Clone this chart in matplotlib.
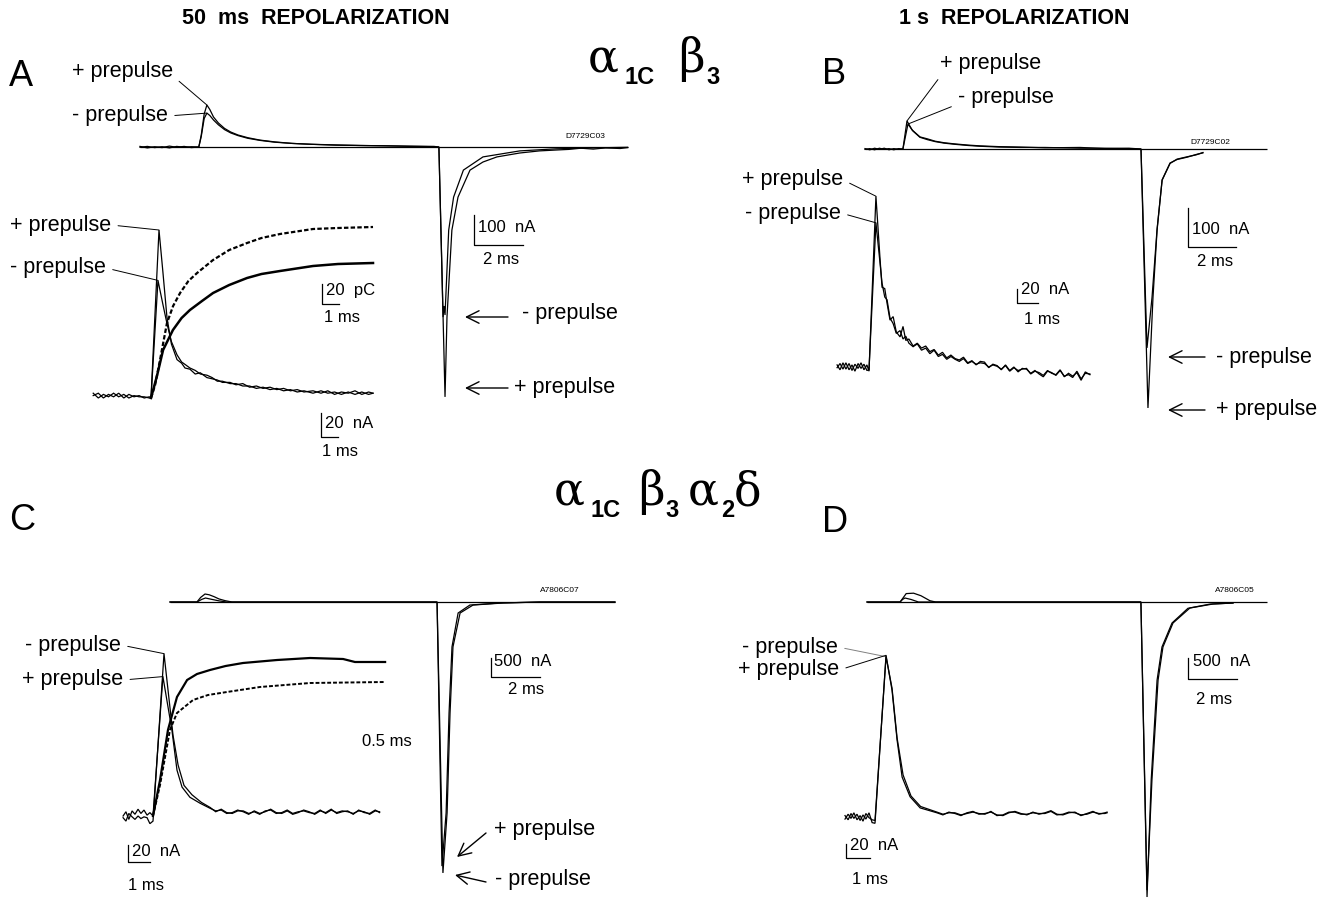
import numpy as np
import matplotlib
matplotlib.use('Agg')
import matplotlib.pyplot as plt

plt.rcParams['font.family'] = ['Liberation Sans', 'DejaVu Sans']

W, H = 1331, 898

# ---------------- panel A, top trace (ms, nA) ----------------
A_TOP_T_POS = [0, 0.3, 0.6, 0.9, 1.2, 1.5, 1.8, 2.1, 2.4, 2.5, 2.62, 2.73, 2.85, 3.0, 3.2, 3.45, 3.7, 4.0,
               4.4, 4.9, 5.5, 6.2, 7.0, 8.0, 9.0, 10.0, 11.0, 12.0, 12.2, 12.45, 12.53, 12.73, 12.98, 13.47,
               14.0, 14.57, 15.5, 16.3, 17.0, 17.5, 18.0, 18.5, 19.0, 19.6, 19.9]
A_TOP_I_POS = [2, -3, 1, -2, 3, -1, 2, -2, 0, 40, 110, 140, 125, 100, 80, 62, 50, 40,
               31, 23, 17, 12, 9, 7, 5, 4, 3, 2, 0, -833, -567, -277, -167, -77,
               -50, -33, -20, -13, -10, -8, -4, -7, -3, -5, -2]
A_TOP_T_NEG = [0, 0.3, 0.6, 0.9, 1.2, 1.5, 1.8, 2.1, 2.4, 2.5, 2.62, 2.73, 2.85, 3.0, 3.2, 3.45, 3.7, 4.0,
               4.4, 4.9, 5.5, 6.2, 7.0, 8.0, 9.0, 10.0, 11.0, 12.0, 12.2, 12.37, 12.41, 12.45, 12.6, 12.8,
               13.2, 14.0, 15.5, 17.0, 18.5, 19.9]
A_TOP_I_NEG = [-1, 2, -2, 1, -3, 2, -1, 1, 0, 35, 95, 113, 105, 90, 74, 58, 47, 38,
               29, 22, 16, 12, 9, 6, 5, 4, 2, 1, 0, -567, -530, -560, -277, -167,
               -77, -33, -13, -6, -3, -1]

# ---------------- panel A, inset (ms, nA and pC) ----------------
AI_T_POS = [-3.4, -3.1, -2.8, -2.5, -2.2, -1.9, -1.6, -1.3, -1.0, -0.7, -0.4, -0.1, 0, 0.47,
            0.7, 0.94, 1.2, 1.53, 1.8, 2.0, 2.29, 2.6, 2.9, 3.29, 3.6, 3.9, 4.2, 4.65, 5.0, 5.4,
            5.8, 6.2, 6.59, 7.0, 7.4, 7.8, 8.2, 8.6, 9.0, 9.53, 10.0, 10.4, 10.8, 11.2, 11.6, 12.0,
            12.4, 12.8, 13.06]
AI_I_POS = [2, 4, 0, 3, 1, 4, 0, 3, 1, 2, 0, 1, 0, 140,
            105, 67, 45, 32, 29, 25, 24, 20, 21, 17, 16, 15, 13, 13, 11, 12,
            9, 10, 8, 9, 7, 8, 6, 7, 5, 6, 4, 6, 3, 5, 4, 6,
            3, 5, 4]
AI_T_NEG = [-3.4, -3.1, -2.8, -2.5, -2.2, -1.9, -1.6, -1.3, -1.0, -0.7, -0.4, -0.1, 0, 0.41,
            0.7, 0.94, 1.2, 1.53, 1.8, 2.0, 2.29, 2.6, 2.9, 3.29, 3.6, 3.9, 4.2, 4.65, 5.0, 5.4,
            5.8, 6.2, 6.59, 7.0, 7.4, 7.8, 8.2, 8.6, 9.0, 9.53, 10.0, 10.4, 10.8, 11.2, 11.6, 12.0,
            12.4, 12.8, 13.06]
AI_I_NEG = [4, 0, 3, 1, 4, 1, 3, 0, 2, 1, 1, 0, 0, 98,
            78, 62, 47, 36, 30, 28, 25, 23, 20, 19, 17, 14, 14, 12, 12, 10,
            10, 8, 9, 7, 8, 6, 7, 5, 6, 4, 6, 4, 5, 3, 5, 3,
            5, 3, 4]
AQ_T_DASH = [0, 0.24, 0.53, 0.94, 1.3, 1.71, 2.2, 2.71, 3.65, 4.6, 5.65, 6.5, 7.59, 9.53, 11.0, 13.06]
AQ_DASH = [0, 13, 38, 75, 92, 105, 117, 125, 138, 148, 155, 160, 164, 169, 170, 171]
AQ_T_SOLID = [0, 0.35, 0.71, 1.29, 1.8, 2.29, 3.0, 3.65, 4.6, 5.65, 6.5, 7.59, 9.53, 11.0, 13.06]
AQ_SOLID = [0, 22, 48, 68, 80, 88, 97, 105, 113, 120, 124, 127, 132, 134, 135]

# ---------------- panel B, top trace ----------------
B_TOP_T_POS = [0, 0.2, 0.4, 0.6, 0.8, 1.0, 1.2, 1.4, 1.58, 1.75, 1.96, 2.29, 2.6, 2.92, 3.3, 3.75, 4.3,
               4.8, 5.6, 6.46, 7.5, 8.96, 10.0, 11.0, 11.5, 11.79, 12.0, 12.17, 12.38, 12.71, 13.0,
               13.42, 13.8, 14.08]
B_TOP_I_POS = [1, -2, 2, -1, 2, -2, 1, -1, 0, 72, 49, 31, 26, 20, 16, 13, 10,
               8, 6, 5, 3, 4, 1, 2, 0, -664, -380, -208, -79, -36, -27,
               -21, -14, -10]
B_TOP_T_NEG = [0, 0.2, 0.4, 0.6, 0.8, 1.0, 1.2, 1.4, 1.58, 1.79, 2.0, 2.29, 2.6, 2.92, 3.3, 3.75, 4.3,
               4.8, 5.6, 6.46, 7.5, 8.96, 10.0, 11.0, 11.5, 11.75, 11.96, 12.17, 12.38, 12.71, 13.0,
               13.42, 13.8, 14.08]
B_TOP_I_NEG = [-1, 1, -2, 2, -1, 1, -2, 1, 0, 64, 46, 30, 24, 19, 15, 12, 9,
               7, 5, 4, 4, 2, 2, 1, 0, -510, -380, -205, -80, -37, -26,
               -20, -15, -9]

# ---------------- panel B, inset ----------------
BI_T_PRE = [-1.52, -1.38, -1.24, -1.1, -0.95, -0.81, -0.67, -0.52, -0.38, -0.24, -0.1, 0]
BI_I_PRE_POS = [3, -4, 6, -3, 5, -5, 4, -2, 6, -4, 3, -6]
BI_I_PRE_NEG = [-1, 5, -3, 6, -4, 3, -6, 5, -2, 4, -5, -4]
BI_T_PEAK = 0.33
BI_PEAK_POS = 244
BI_PEAK_NEG = 206
BI_T_DECAY = [0.52, 0.62, 0.75, 0.86, 1.0, 1.15, 1.3, 1.48, 1.62, 1.75, 1.9, 2.1, 2.3, 2.5, 2.7, 2.9,
              3.1, 3.3, 3.5, 3.7, 3.9, 4.1, 4.3, 4.5, 4.7, 4.9, 5.1, 5.3, 5.5, 5.7, 5.9, 6.1, 6.3, 6.5,
              6.7, 6.9, 7.1, 7.3, 7.5, 7.7, 7.9, 8.1, 8.3, 8.5, 8.7, 8.9, 9.1, 9.3, 9.5, 9.7, 9.9, 10.1,
              10.3, 10.52]
BI_I_DECAY_POS = [157, 114, 112, 91, 67, 72, 50, 43, 58, 38, 40, 30, 34, 27, 30, 22,
                  25, 17, 21, 13, 17, 12, 10, 14, 6, 9, 3, 8, 7, -1, 4, 2, -4, 3,
                  -5, 0, -7, -2, -3, -9, -5, -10, -14, -6, -8, -12, -5, -13, -11, -15, -6, -17,
                  -9, -10]
BI_I_DECAY_NEG = [150, 120, 100, 96, 70, 62, 48, 52, 40, 44, 34, 29, 33, 24, 27, 19,
                  24, 15, 18, 11, 15, 11, 8, 12, 5, 8, 4, 6, 5, 0, 3, 1, -3, 2,
                  -6, -1, -5, -3, -2, -10, -6, -8, -12, -5, -9, -11, -4, -14, -9, -13, -8, -19,
                  -7, -11]

# ---------------- panel C, top trace ----------------
C_TOP_T_POS = [0, 1.1, 1.25, 1.43, 1.6, 1.8, 2.0, 2.25, 2.53, 10.9, 11.1, 11.27, 11.39, 11.51, 11.76,
               12.24, 13.47, 15.1, 18.16]
C_TOP_I_POS = [0, 0, 120, 210, 190, 140, 80, 35, 0, 0, -6950, -5550, -2920, -1180, -290,
               -80, -26, 0, 0]
C_TOP_T_NEG = [0, 1.1, 1.3, 1.45, 1.7, 2.0, 2.3, 10.9, 11.14, 11.31, 11.43, 11.55, 11.84, 12.37,
               13.59, 15.1, 18.16]
C_TOP_I_NEG = [0, 0, 70, 105, 70, 30, 0, 0, -7130, -5550, -2920, -1180, -290, -80,
               -26, 0, 0]

# ---------------- panel C, inset ----------------
CI_T_PRE = [-1.36, -1.23, -1.1, -0.95, -0.82, -0.68, -0.55, -0.41, -0.27, -0.14, 0]
CI_I_PRE_POS = [0, 5, -4, 6, 2, 8, 3, 7, 1, 4, 0]
CI_I_PRE_NEG = [-2, -6, 3, -1, -4, 0, -3, -1, -2, -9, -6]
CI_T_RISE_POS = [0.45, 0.86, 1.09, 1.32, 1.68, 2.14]
CI_I_RISE_POS = [164, 101, 54, 34, 22, 15]
CI_T_RISE_NEG = [0.5, 0.91, 1.14, 1.41, 1.77, 2.2]
CI_I_RISE_NEG = [191, 95, 60, 36, 25, 16]
CI_T_TAIL = [2.6, 2.85, 3.1, 3.35, 3.6, 3.85, 4.1, 4.35, 4.6, 4.85, 5.1, 5.35, 5.6, 5.85, 6.1, 6.35,
             6.6, 6.85, 7.1, 7.35, 7.6, 7.85, 8.1, 8.35, 8.6, 8.85, 9.1, 9.35, 9.6, 9.85, 10.1, 10.3]
CI_I_TAIL_POS = [9, 6, 7, 3, 4, 7, 5, 2, 6, 3, 5, 8, 4, 3, 6, 2,
                 4, 7, 5, 2, 6, 4, 8, 3, 5, 6, 2, 7, 4, 3, 7, 4]
CI_I_TAIL_NEG = [10, 5, 8, 4, 3, 6, 6, 3, 5, 2, 6, 7, 3, 4, 7, 3,
                 5, 6, 4, 3, 7, 3, 7, 4, 6, 5, 3, 6, 5, 2, 6, 5]
CQ_T_SOLID = [0, 0.32, 0.68, 1.09, 1.55, 2.0, 2.59, 3.3, 4.09, 5.64, 7.14, 8.64, 9.18, 10.55]
CQ_SOLID = [0, 36, 86, 119, 136, 142, 146, 150, 153, 156, 158, 157, 154, 154]
CQ_T_DASH = [0, 0.32, 0.77, 1.09, 1.82, 2.5, 3.36, 4.86, 7.14, 10.55]
CQ_DASH = [0, 31, 86, 103, 116, 121, 124, 129, 133, 134]

# ---------------- panel D, top trace ----------------
D_TOP_T_POS = [0, 1.35, 1.6, 1.9, 2.2, 2.57, 2.8, 11.18, 11.43, 11.63, 11.88, 12.08, 12.49, 13.18,
               14.12, 14.94]
D_TOP_I_POS = [0, 0, 200, 210, 150, 30, 0, 0, -6860, -4240, -1860, -1070, -500, -143,
               -48, -24]
D_TOP_T_NEG = [0, 1.35, 1.45, 1.55, 1.8, 2.1, 11.18, 11.43, 11.6, 11.84, 12.04, 12.45, 13.1, 14.0, 14.94]
D_TOP_I_NEG = [0, 0, 60, 95, 60, 0, 0, -7024, -4240, -1860, -1070, -500, -150, -50, -24]

# ---------------- panel D, inset ----------------
DI_T_PRE = [-1.25, -1.12, -1.0, -0.88, -0.75, -0.62, -0.5, -0.38, -0.25, -0.12, 0]
DI_I_PRE_POS = [2, -4, 5, -2, 4, -5, 3, -3, 6, -8, -9]
DI_I_PRE_NEG = [-3, 4, -2, 6, -4, 2, -6, 5, -1, -4, -5]
DI_T_RISE_POS = [0.46, 0.71, 0.92, 1.13, 1.46, 1.88]
DI_I_RISE_POS = [231, 181, 110, 57, 29, 13]
DI_T_RISE_NEG = [0.46, 0.71, 0.92, 1.17, 1.5, 1.9]
DI_I_RISE_NEG = [229, 184, 113, 60, 30, 15]
DI_T_TAIL = [2.58, 2.83, 3.08, 3.33, 3.58, 3.83, 4.08, 4.33, 4.58, 4.83, 5.08, 5.33, 5.58, 5.83, 6.08,
             6.33, 6.58, 6.83, 7.08, 7.33, 7.58, 7.83, 8.08, 8.33, 8.58, 8.83, 9.08, 9.33, 9.58, 9.67]
DI_I_TAIL_POS = [6, 3, 7, 5, 2, 6, 8, 4, 5, 7, 3, 2, 6, 8, 5, 3, 7, 4, 6, 9, 4, 3, 6, 7, 2, 5, 8, 4, 6, 7]
DI_I_TAIL_NEG = [7, 4, 6, 6, 3, 5, 7, 5, 4, 8, 2, 3, 7, 7, 4, 4, 6, 5, 5, 8, 3, 4, 7, 6, 3, 4, 7, 5, 5, 6]

LABEL_FS = 15.5
SCALE_FS = 12

fig = plt.figure(figsize=(W / 100, H / 100), dpi=100)
fig.patch.set_facecolor('white')

# full-figure overlay in pixel units (y down) for labels, leaders and arrows
ov = fig.add_axes([0, 0, 1, 1])
ov.set_xlim(0, W)
ov.set_ylim(H, 0)
ov.axis('off')


def put(x, y, s, size=LABEL_FS, ha='left', va='center', **kw):
    ov.text(x, y, s, fontsize=size, ha=ha, va=va, **kw)


def trace_axes(box, origin, scale):
    # box = left, top, right, bottom in px; origin = px of (0, 0); scale = px per unit
    left, top, right, bottom = box
    ax = fig.add_axes([left / W, 1 - bottom / H, (right - left) / W, (bottom - top) / H])
    ax.set_xlim((left - origin[0]) / scale[0], (right - origin[0]) / scale[0])
    ax.set_ylim((origin[1] - bottom) / scale[1], (origin[1] - top) / scale[1])
    ax.axis('off')
    ax.patch.set_alpha(0)
    return ax


def to_data(ax, x, y):
    return ax.transData.inverted().transform((x, H - y))


def trace(ax, t, i, lw=0.9, **kw):
    ax.plot(t, i, color='black', lw=lw, clip_on=False, solid_joinstyle='miter', **kw)


def scale_bar(ax, corner, dx, dy, lab_y, lab_x, ypos, xpos):
    cx, cy = to_data(ax, *corner)
    ax.plot([cx, cx, cx + dx], [cy + dy, cy, cy], color='black', lw=0.9, clip_on=False)
    put(ypos[0], ypos[1], lab_y, size=SCALE_FS)
    put(xpos[0], xpos[1], lab_x, size=SCALE_FS)


def leader(ax, t, i, text, pos, relpos=(1, 0.5), color='black'):
    k = int(np.argmax(i))
    ov.annotate(text, xy=(t[k], i[k]), xycoords=ax.transData, xytext=pos, textcoords='data',
                fontsize=LABEL_FS, ha='left', va='center',
                arrowprops=dict(arrowstyle='-', lw=0.7, color=color, relpos=relpos,
                                shrinkA=3, shrinkB=0))


def arrow(tip, tail, text, tpos):
    ov.annotate('', xy=tip, xytext=tail,
                arrowprops=dict(arrowstyle='->,head_length=0.9,head_width=0.45', lw=1.0,
                                color='black', shrinkA=0, shrinkB=0))
    put(tpos[0], tpos[1], text)


# ---------------- headings ----------------
put(316, 19, '50  ms  REPOLARIZATION', size=15.5, ha='center', weight='bold')
put(1014, 19, '1 s  REPOLARIZATION', size=15.5, ha='center', weight='bold')

greek = dict(family=['DejaVu Serif'], size=33, va='baseline')
sub = dict(size=17, weight='bold', va='baseline')
put(588, 72, 'α', **greek)
put(624, 84, '1C', **sub)
put(678, 72, 'β', **greek)
put(706, 84, '3', **sub)

put(554, 505, 'α', **greek)
put(590, 517, '1C', **sub)
put(638, 505, 'β', **greek)
put(665, 517, '3', **sub)
put(688, 505, 'α', **greek)
put(721, 517, '2', **sub)
put(734, 505, 'δ', **greek)

for letter, x, y in [('A', 9, 76), ('B', 822, 74), ('C', 9, 521), ('D', 822, 522)]:
    put(x, y, letter, size=26)

# ---------------- panel A ----------------
axA = trace_axes((130, 90, 640, 410), (140, 147), (24.5, 0.3))
axA.hlines(0, A_TOP_T_POS[0], A_TOP_T_POS[-1], color='black', lw=0.9)
trace(axA, A_TOP_T_POS, A_TOP_I_POS)
trace(axA, A_TOP_T_NEG, A_TOP_I_NEG)
put(565, 136, 'D7729C03', size=6)
leader(axA, A_TOP_T_POS, A_TOP_I_POS, '+ prepulse', (72, 72), relpos=(1, 0.3))
leader(axA, A_TOP_T_NEG, A_TOP_I_NEG, '- prepulse', (72, 116))
scale_bar(axA, (474, 245), 2, 100, '100  nA', '2 ms', (478, 227), (483, 259))
arrow((465, 317), (508, 317), '- prepulse', (522, 313))
arrow((465, 388), (508, 388), '+ prepulse', (514, 387))

axAi = trace_axes((85, 215, 385, 410), (151, 398), (17, 1.2))
axAq = trace_axes((85, 215, 385, 410), (151, 398), (17, 1.0))
trace(axAi, AI_T_POS, AI_I_POS)
trace(axAi, AI_T_NEG, AI_I_NEG)
trace(axAq, AQ_T_SOLID, AQ_SOLID, lw=1.8)
trace(axAq, AQ_T_DASH, AQ_DASH, lw=1.6, dashes=(2.0, 1.0))
leader(axAi, AI_T_POS, AI_I_POS, '+ prepulse', (10, 225))
leader(axAi, AI_T_NEG, AI_I_NEG, '- prepulse', (10, 268))
scale_bar(axAq, (322, 304), 1, 20, '20  pC', '1 ms', (326, 290), (324, 318))
scale_bar(axAi, (321, 437), 1, 20, '20  nA', '1 ms', (325, 423), (322, 451))

# ---------------- panel B ----------------
axB = trace_axes((855, 95, 1275, 420), (865, 149), (24, 0.39))
axB.hlines(0, 0, 16.75, color='black', lw=0.9)
trace(axB, B_TOP_T_POS, B_TOP_I_POS)
trace(axB, B_TOP_T_NEG, B_TOP_I_NEG)
put(1190, 142, 'D7729C02', size=6)
leader(axB, B_TOP_T_POS, B_TOP_I_POS, '+ prepulse', (940, 63), relpos=(0.04, 0.1))
leader(axB, B_TOP_T_NEG, B_TOP_I_NEG, '- prepulse', (958, 97), relpos=(0.02, 0.2))
scale_bar(axB, (1188, 247), 2, 100, '100  nA', '2 ms', (1192, 229), (1197, 261))
arrow((1168, 357), (1205, 357), '- prepulse', (1216, 357))
arrow((1168, 410), (1205, 410), '+ prepulse', (1216, 410))

axBi = trace_axes((825, 170, 1100, 395), (869, 367), (21, 0.7))
trace(axBi, BI_T_PRE + [BI_T_PEAK] + BI_T_DECAY, BI_I_PRE_POS + [BI_PEAK_POS] + BI_I_DECAY_POS)
trace(axBi, BI_T_PRE + [BI_T_PEAK] + BI_T_DECAY, BI_I_PRE_NEG + [BI_PEAK_NEG] + BI_I_DECAY_NEG)
leader(axBi, BI_T_PRE + [BI_T_PEAK], BI_I_PRE_POS + [BI_PEAK_POS], '+ prepulse', (742, 180))
leader(axBi, BI_T_PRE + [BI_T_PEAK], BI_I_PRE_NEG + [BI_PEAK_NEG], '- prepulse', (745, 213))
scale_bar(axBi, (1017, 303), 1, 20, '20  nA', '1 ms', (1021, 290), (1024, 320))

# ---------------- panel C ----------------
axC = trace_axes((160, 570, 625, 885), (170, 602), (24.5, 0.038))
axC.hlines(0, 0, 18.16, color='black', lw=0.9)
trace(axC, C_TOP_T_POS, C_TOP_I_POS)
trace(axC, C_TOP_T_NEG, C_TOP_I_NEG)
put(540, 591, 'A7806C07', size=6)
scale_bar(axC, (491, 677), 2, 500, '500  nA', '2 ms', (494, 662), (508, 690))
put(362, 742, '0.5 ms', size=SCALE_FS)
arrow((457, 857), (486, 833), '+ prepulse', (494, 830))
arrow((455, 875), (486, 882), '- prepulse', (495, 879))

axCi = trace_axes((115, 635, 395, 830), (153, 816), (22, 0.85))
axCq = trace_axes((115, 635, 395, 830), (153, 816), (22, 1.0))
trace(axCi, CI_T_PRE + CI_T_RISE_POS + CI_T_TAIL, CI_I_PRE_POS + CI_I_RISE_POS + CI_I_TAIL_POS)
trace(axCi, CI_T_PRE + CI_T_RISE_NEG + CI_T_TAIL, CI_I_PRE_NEG + CI_I_RISE_NEG + CI_I_TAIL_NEG)
trace(axCq, CQ_T_SOLID, CQ_SOLID, lw=1.6)
trace(axCq, CQ_T_DASH, CQ_DASH, lw=1.4, dashes=(2.0, 1.0))
leader(axCi, CI_T_RISE_NEG, CI_I_RISE_NEG, '- prepulse', (25, 645))
leader(axCi, CI_T_RISE_POS, CI_I_RISE_POS, '+ prepulse', (22, 680))
scale_bar(axCi, (128, 862), 1, 20, '20  nA', '1 ms', (132, 851), (128, 885))

# ---------------- panel D ----------------
axD = trace_axes((860, 570, 1275, 898), (867, 602), (24.5, 0.042))
axD.hlines(0, 0, 16.33, color='black', lw=0.9)
trace(axD, D_TOP_T_POS, D_TOP_I_POS)
trace(axD, D_TOP_T_NEG, D_TOP_I_NEG)
put(1215, 591, 'A7806C05', size=6)
scale_bar(axD, (1188, 679), 2, 500, '500  nA', '2 ms', (1193, 662), (1196, 699))

axDi = trace_axes((835, 640, 1115, 830), (875, 817), (24, 0.7))
trace(axDi, DI_T_PRE + DI_T_RISE_POS + DI_T_TAIL, DI_I_PRE_POS + DI_I_RISE_POS + DI_I_TAIL_POS)
trace(axDi, DI_T_PRE + DI_T_RISE_NEG + DI_T_TAIL, DI_I_PRE_NEG + DI_I_RISE_NEG + DI_I_TAIL_NEG)
leader(axDi, DI_T_RISE_NEG, DI_I_RISE_NEG, '- prepulse', (742, 647), color='0.5')
leader(axDi, DI_T_RISE_POS, DI_I_RISE_POS, '+ prepulse', (738, 670))
scale_bar(axDi, (846, 858), 1, 20, '20  nA', '1 ms', (850, 846), (852, 880))

fig.savefig('out.png', dpi=100, facecolor='white')
